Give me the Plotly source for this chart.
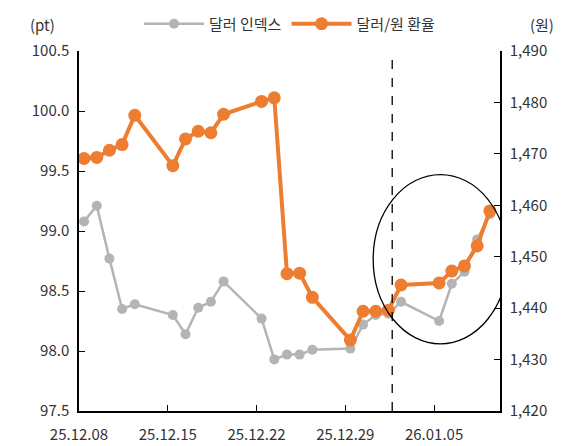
import plotly.graph_objects as go

# day offsets from 25.12.08
days = [0, 1, 2, 3, 4, 7, 8, 9, 10, 11, 14, 15, 16, 17, 18,
        21, 22, 23, 24, 25, 28, 29, 30, 31, 32]
dxy = [99.08, 99.21, 98.77, 98.35, 98.39, 98.30, 98.14, 98.36, 98.41, 98.58,
       98.27, 97.93, 97.97, 97.97, 98.01,
       98.02, 98.22, 98.30, 98.31, 98.41, 98.25, 98.56, 98.66, 98.93, 99.14]
usdkrw = [1469.1, 1469.3, 1470.7, 1471.8, 1477.5, 1467.7, 1472.9, 1474.4, 1474.1, 1477.7,
          1480.2, 1480.9, 1446.7, 1446.8, 1442.1,
          1433.8, 1439.4, 1439.4, 1439.6, 1444.5, 1444.9, 1447.2, 1448.2, 1452.1, 1458.9]
tick_days = [-0.4, 6.6, 13.6, 20.6, 27.6]
tick_text = ["25.12.08", "25.12.15", "25.12.22", "25.12.29", "26.01.05"]

fig = go.Figure()
fig.add_trace(go.Scatter(x=days, y=dxy, name="달러 인덱스", mode="lines+markers",
                         line=dict(color="#b4b4b4", width=2.5),
                         marker=dict(size=10, color="#b4b4b4")))
fig.add_trace(go.Scatter(x=days, y=usdkrw, name="달러/원 환율", mode="lines+markers",
                         yaxis="y2", line=dict(color="#ed7d31", width=4),
                         marker=dict(size=13, color="#ed7d31")))

fig.add_shape(type="line", x0=24.3, x1=24.3, y0=0, y1=1, yref="paper",
              line=dict(color="black", width=1.3, dash="dash"))
fig.add_shape(type="circle", x0=22.8, x1=33.4, y0=98.06, y1=99.47,
              line=dict(color="black", width=1.3))

axis = dict(showline=True, linecolor="black", linewidth=1.5, ticks="inside",
            ticklen=6, tickcolor="black", showgrid=False, zeroline=False,
            tickfont=dict(size=15, color="#333"))
fig.update_layout(
    width=568, height=446,
    margin=dict(l=71, r=76, t=43, b=43, autoexpand=False),
    plot_bgcolor="white", paper_bgcolor="white",
    font=dict(family="Noto Sans CJK KR", size=15, color="#333"),
    xaxis=dict(axis, range=[-0.4, 32.8], tickvals=tick_days, ticktext=tick_text,
               ticklabelstandoff=9),
    yaxis=dict(axis, range=[97.5, 100.5], dtick=0.5, tickformat=".1f",
               ticklabelstandoff=5),
    yaxis2=dict(axis, range=[1420, 1490], dtick=10, tickformat=",", overlaying="y",
                side="right", ticklabelstandoff=5),
    legend=dict(orientation="h", x=0.5, xanchor="center", y=1.075, yanchor="middle",
                font=dict(size=15), itemwidth=60),
    showlegend=True,
)
fig.add_annotation(text="(pt)", x=0, y=1.075, xref="paper", yref="paper",
                   xanchor="right", xshift=-22, yanchor="middle", showarrow=False,
                   font=dict(size=15))
fig.add_annotation(text="(원)", x=1, y=1.075, xref="paper", yref="paper",
                   xanchor="left", xshift=28, yanchor="middle", showarrow=False,
                   font=dict(size=15))
fig.write_html("out.html")
